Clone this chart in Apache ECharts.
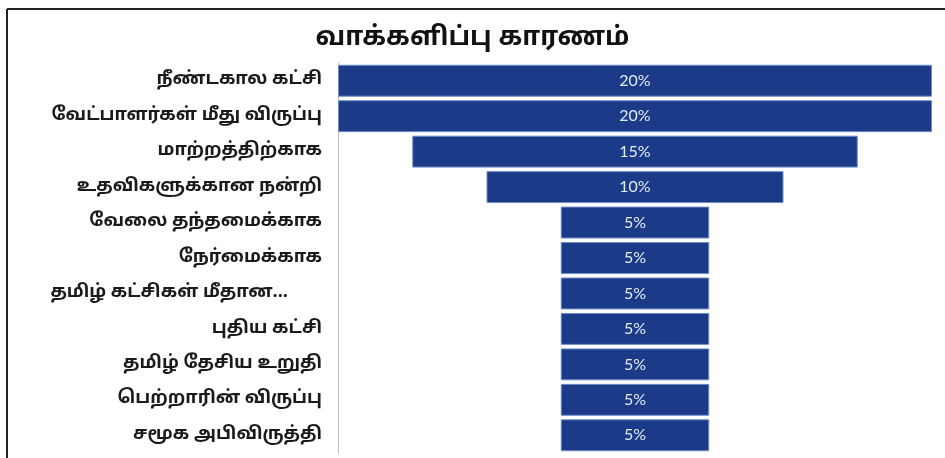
<!DOCTYPE html>
<html>
<head>
<meta charset="utf-8">
<script src="https://cdn.jsdelivr.net/npm/echarts@6/dist/echarts.min.js"></script>
<style>
html,body{margin:0;padding:0;background:#fff;}
#c{width:945px;height:458px;}
</style>
</head>
<body>
<div id="c"></div>
<script>
const titleText = 'வாக்களிப்பு காரணம்';
const categories = [
  'நீண்டகால கட்சி',
  'வேட்பாளர்கள் மீது விருப்பு',
  'மாற்றத்திற்காக',
  'உதவிகளுக்கான நன்றி',
  'வேலை தந்தமைக்காக',
  'நேர்மைக்காக',
  'தமிழ் கட்சிகள் மீதான...',
  'புதிய கட்சி',
  'தமிழ் தேசிய உறுதி',
  'பெற்றாரின் விருப்பு',
  'சமூக அபிவிருத்தி'
];
const values = [20, 20, 15, 10, 5, 5, 5, 5, 5, 5, 5];
const maxValue = 20;

const offsets = values.map(v => (maxValue - v) / 2);
const FONT = '"Noto Sans Tamil", "Noto Sans", "Lato", sans-serif';

const chart = echarts.init(document.getElementById('c'));
chart.setOption({
  animation: false,
  backgroundColor: '#fff',
  title: {
    text: titleText,
    left: 'center',
    top: 22,
    textStyle: { fontFamily: FONT, fontSize: 26, fontWeight: 'bold', color: '#111' }
  },
  grid: { left: 338, right: 13, top: 63, bottom: 5, containLabel: false },
  xAxis: {
    type: 'value', min: 0, max: maxValue,
    show: false
  },
  yAxis: {
    type: 'category',
    data: categories,
    inverse: true,
    axisLine: { show: true, lineStyle: { color: '#bdbdbd', width: 1 } },
    axisTick: { show: false },
    axisLabel: {
      fontFamily: FONT, fontSize: 18, fontWeight: 'bold', color: '#1a1a1a', margin: 16,
      formatter: function (v) { return v.endsWith('...') ? '{t|' + v + '}' : v; },
      rich: { t: { fontFamily: FONT, fontSize: 18, fontWeight: 'bold', color: '#1a1a1a', padding: [0, 34, 0, 0] } }
    }
  },
  series: [
    {
      type: 'bar', stack: 'f', data: offsets,
      itemStyle: { color: 'transparent' },
      barCategoryGap: '10%',
      silent: true
    },
    {
      type: 'bar', stack: 'f', data: values,
      barCategoryGap: '10%',
      itemStyle: { color: '#1b3a88', borderColor: '#6f8cc4', borderWidth: 1 },
      label: {
        show: true, position: 'inside',
        formatter: '{c}%',
        fontFamily: 'Lato, "Open Sans", sans-serif', fontSize: 16, color: '#e4ecf8'
      }
    }
  ],
  graphic: [
    { type: 'line', shape: { x1: 7, y1: 9, x2: 945, y2: 9 }, style: { stroke: '#222', lineWidth: 2 } },
    { type: 'line', shape: { x1: 7, y1: 9, x2: 7, y2: 458 }, style: { stroke: '#222', lineWidth: 2 } }
  ]
});
</script>
</body>
</html>
